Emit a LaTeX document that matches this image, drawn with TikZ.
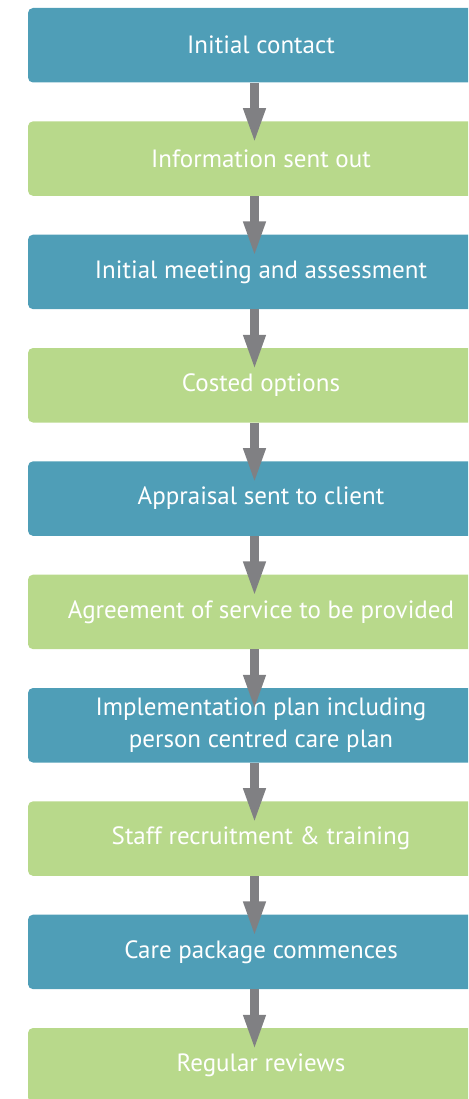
\documentclass[tikz,border=0pt]{standalone}
\usepackage{fontspec}
\setmainfont{PT Sans}
\usetikzlibrary{arrows.meta}
\definecolor{boxblue}{RGB}{79,158,183}
\definecolor{boxgreen}{RGB}{184,217,139}
\definecolor{arrgray}{RGB}{128,128,131}
\tikzset{
  flowbox/.style={rectangle, rounded corners=5pt, minimum width=466pt, minimum height=74.5pt,
    inner sep=0pt, align=center, text=white, font=\fontsize{25}{32}\selectfont},
  bluebox/.style={flowbox, fill=boxblue},
  greenbox/.style={flowbox, fill=boxgreen},
  flowarrow/.style={draw=arrgray, line width=9pt, -{Triangle[length=36pt,width=20pt]}}
}
\begin{document}
\begin{tikzpicture}[x=1pt,y=-1pt]
\useasboundingbox (0,0) rectangle (468,1099);
\clip (0,0) rectangle (468,1099);
\node[bluebox]  (n1)  at (261,45.25)  {Initial contact};
\node[greenbox] (n2)  at (261,158.6)  {Information sent out};
\node[bluebox]  (n3)  at (261,271.9)  {Initial meeting and assessment};
\node[greenbox] (n4)  at (261,385.25) {Costed options};
\node[bluebox]  (n5)  at (261,498.6)  {Appraisal sent to client};
\node[greenbox] (n6)  at (261,611.9)  {Agreement of service to be provided};
\node[bluebox]  (n7)  at (261,725.25) {Implementation plan including\\person centred care plan};
\node[greenbox] (n8)  at (261,838.6)  {Staff recruitment \& training};
\node[bluebox]  (n9)  at (261,951.9)  {Care package commences};
\node[greenbox] (n10) at (261,1065.25) {Regular reviews};
\foreach \a/\b in {n1/n2,n2/n3,n3/n4,n4/n5,n5/n6,n6/n7,n7/n8,n8/n9,n9/n10}{
  \draw[flowarrow] ([xshift=-6.5pt]\a.south) -- ([xshift=-6.5pt,yshift=-23pt]\b.north);
}
\end{tikzpicture}
\end{document}
